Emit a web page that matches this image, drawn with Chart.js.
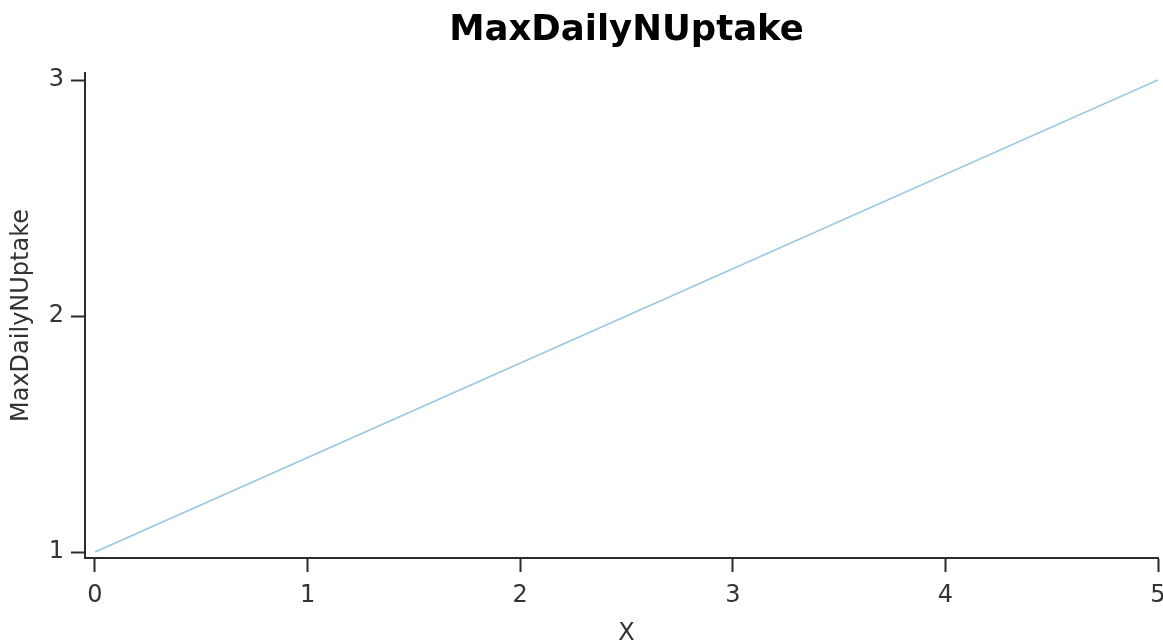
<!DOCTYPE html>
<html>
<head>
<meta charset="utf-8">
<script src="https://cdn.jsdelivr.net/npm/chart.js@4/dist/chart.umd.min.js"></script>
<style>
  html, body { margin: 0; padding: 0; background: #fff; }
  #wrap { width: 1163px; height: 643px; position: relative; }
</style>
</head>
<body>
<div id="wrap"><canvas id="chart"></canvas></div>
<script>
// Response curve: MaxDailyNUptake against X
const xValues = [0, 5];
const uptakeValues = [1, 3];
const xTicks = [0, 1, 2, 3, 4, 5];
const yTicks = [1, 2, 3];
const chartTitle = 'MaxDailyNUptake';
const xTitle = 'X';
const yTitle = 'MaxDailyNUptake';

const FONT = "'DejaVu Sans', sans-serif";
const AXIS_COLOR = '#2b2b2b';
const TEXT_COLOR = '#333';

const points = xValues.map((x, i) => ({ x: x, y: uptakeValues[i] }));

// Chart title and x-axis title are centred on the span of the x ticks
const centredTitles = {
  id: 'centredTitles',
  afterDraw(chart) {
    const ctx = chart.ctx;
    const xs = chart.scales.x;
    const cx = (xs.getPixelForValue(xTicks[0]) + xs.getPixelForValue(xTicks[xTicks.length - 1])) / 2;
    ctx.save();
    ctx.textAlign = 'center';
    ctx.textBaseline = 'alphabetic';
    ctx.fillStyle = '#000';
    ctx.font = `bold 35.5px ${FONT}`;
    ctx.fillText(chartTitle, cx, 40);
    ctx.fillStyle = TEXT_COLOR;
    ctx.font = `24px ${FONT}`;
    ctx.fillText(xTitle, cx, 640);
    ctx.restore();
  }
};

new Chart(document.getElementById('chart'), {
  type: 'scatter',
  data: {
    datasets: [{
      label: 'MaxDailyNUptake',
      data: points,
      showLine: true,
      borderColor: 'rgb(150,198,224)',
      borderWidth: 1.5,
      pointRadius: 0,
      fill: false
    }]
  },
  plugins: [centredTitles],
  options: {
    responsive: true,
    maintainAspectRatio: false,
    animation: false,
    layout: { padding: { left: 0, right: 5, top: 73, bottom: 0 } },
    plugins: {
      legend: { display: false },
      tooltip: { enabled: false },
      title: { display: false }
    },
    scales: {
      x: {
        type: 'linear',
        min: -0.047,
        max: 5,
        afterBuildTicks: (s) => { s.ticks = xTicks.map(v => ({ value: v })); },
        afterFit: (s) => { s.height = 85; s.paddingLeft = 0; s.paddingRight = 0; },
        grid: {
          display: true,
          drawOnChartArea: false,
          drawTicks: true,
          tickLength: 14,
          tickWidth: 2,
          tickColor: AXIS_COLOR
        },
        border: { display: true, color: AXIS_COLOR, width: 2 },
        ticks: {
          color: TEXT_COLOR,
          font: { family: FONT, size: 24 },
          padding: 9,
          maxRotation: 0,
          autoSkip: false
        },
        title: { display: false }
      },
      y: {
        type: 'linear',
        min: 0.9746,
        max: 3.0297,
        afterBuildTicks: (s) => { s.ticks = yTicks.map(v => ({ value: v })); },
        afterFit: (s) => { s.width = 85; s.paddingTop = 0; s.paddingBottom = 0; },
        grid: {
          display: true,
          drawOnChartArea: false,
          drawTicks: true,
          tickLength: 14,
          tickWidth: 2,
          tickColor: AXIS_COLOR
        },
        border: { display: true, color: AXIS_COLOR, width: 2 },
        ticks: {
          color: TEXT_COLOR,
          font: { family: FONT, size: 24 },
          padding: 7
        },
        title: {
          display: true,
          text: yTitle,
          color: TEXT_COLOR,
          font: { family: FONT, size: 24 },
          padding: { top: 7, bottom: 0 }
        }
      }
    }
  }
});
</script>
</body>
</html>
